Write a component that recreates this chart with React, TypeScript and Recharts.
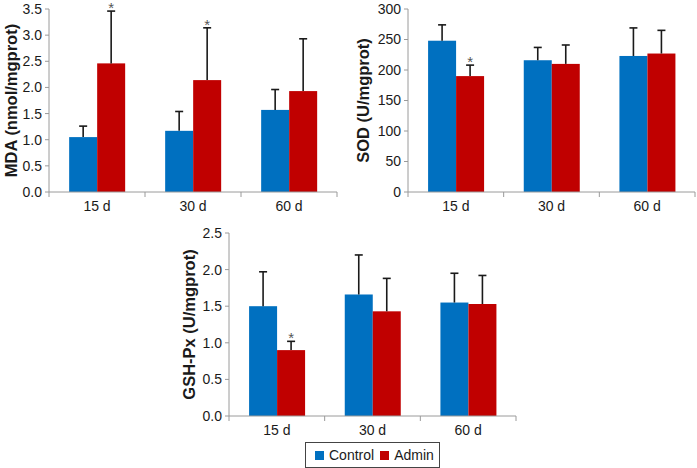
import React from 'react';
import { BarChart, Bar, XAxis, YAxis, Legend } from 'recharts';

const FONT = '"Liberation Sans", Arial, sans-serif';
const BLUE = '#0070C0';
const RED = '#C00000';
const AXIS = '#9a9a9a';
const TEXT = '#1a1a1a';

const categories = ['15 d', '30 d', '60 d'];
const seriesNames = ['Control', 'Admin'];
const seriesColors = [BLUE, RED];

// MDA (nmol/mgprot)
const mdaControl = [1.05, 1.17, 1.57];
const mdaControlErr = [0.21, 0.37, 0.39];
const mdaAdmin = [2.46, 2.14, 1.93];
const mdaAdminErr = [1.0, 1.0, 1.0];
const mdaAdminSig = [true, true, false];
const mdaTicks = [0, 0.5, 1.0, 1.5, 2.0, 2.5, 3.0, 3.5];

// SOD (U/mgprot)
const sodControl = [248, 216, 223];
const sodControlErr = [26, 21, 46];
const sodAdmin = [190, 210, 227];
const sodAdminErr = [18, 31, 38];
const sodAdminSig = [true, false, false];
const sodTicks = [0, 50, 100, 150, 200, 250, 300];

// GSH-Px (U/mgprot)
const gshControl = [1.5, 1.66, 1.55];
const gshControlErr = [0.47, 0.54, 0.4];
const gshAdmin = [0.9, 1.43, 1.53];
const gshAdminErr = [0.12, 0.45, 0.39];
const gshAdminSig = [true, false, false];
const gshTicks = [0, 0.5, 1.0, 1.5, 2.0, 2.5];

const buildRows = (c: number[], ce: number[], a: number[], ae: number[], sig: boolean[]) =>
  categories.map((name, i) => ({
    name,
    Control: c[i],
    controlErr: ce[i],
    Admin: a[i],
    adminErr: ae[i],
    adminSig: sig[i],
  }));

const mdaData = buildRows(mdaControl, mdaControlErr, mdaAdmin, mdaAdminErr, mdaAdminSig);
const sodData = buildRows(sodControl, sodControlErr, sodAdmin, sodAdminErr, sodAdminSig);
const gshData = buildRows(gshControl, gshControlErr, gshAdmin, gshAdminErr, gshAdminSig);

// bar + upper error whisker (+ asterisk), whisker length from the bar's own px/unit
const barWithError = (valueKey: string, errKey: string, sigKey?: string) => (props: any) => {
  const { x, y, width, height, fill, payload } = props;
  const v = payload[valueKey];
  const err = payload[errKey];
  const pxPer = v ? height / v : 0;
  const cx = x + width / 2;
  const top = y - err * pxPer;
  return (
    <g>
      <rect x={x} y={y} width={width} height={height} fill={fill} />
      <line x1={cx} y1={y} x2={cx} y2={top} stroke="#1a1a1a" strokeWidth={1.6} />
      <line x1={cx - 4} y1={top} x2={cx + 4} y2={top} stroke="#1a1a1a" strokeWidth={1.6} />
      {sigKey && payload[sigKey] ? (
        <text x={cx} y={top + 2} textAnchor="middle" fontSize={15} fill="#555" fontFamily={FONT}>
          *
        </text>
      ) : null}
    </g>
  );
};

const XTick = (props: any) => {
  const { x, y, payload, index, visibleTicksCount } = props;
  const off = payload && payload.offset ? payload.offset : 48;
  const last = index === visibleTicksCount - 1;
  return (
    <g>
      <line x1={x - off} y1={y} x2={x - off} y2={y + 5} stroke={AXIS} />
      {last ? <line x1={x + off} y1={y} x2={x + off} y2={y + 5} stroke={AXIS} /> : null}
      <text x={x} y={y + 19} textAnchor="middle" fontSize={14} fill={TEXT} fontFamily={FONT}>
        {payload.value}
      </text>
    </g>
  );
};

const yLabel = (text: string, cx: number, fallbackCy: number) => (props: any) => {
  const vb = props && props.viewBox;
  const cy = vb && vb.height ? vb.y + vb.height / 2 : fallbackCy;
  return (
    <text
      x={cx}
      y={cy}
      transform={`rotate(-90, ${cx}, ${cy})`}
      textAnchor="middle"
      dominantBaseline="central"
      fontSize={16.5}
      fontWeight="bold"
      fill={TEXT}
      fontFamily={FONT}
    >
      {text}
    </text>
  );
};

const LegendBox = () => (
  <div
    style={{
      boxSizing: 'border-box',
      width: 135,
      height: 26,
      border: '1px solid #444',
      display: 'flex',
      alignItems: 'center',
      fontFamily: FONT,
      fontSize: 14,
      color: TEXT,
      background: '#fff',
    }}
  >
    {seriesNames.map((name, i) => (
      <span key={name} style={{ display: 'flex', alignItems: 'center', marginLeft: i === 0 ? 9 : 6 }}>
        <span style={{ width: 9, height: 9, background: seriesColors[i], marginRight: 5, display: 'inline-block' }} />
        {name}
      </span>
    ))}
  </div>
);

const yTick = { fill: TEXT, fontSize: 14, fontFamily: FONT };

type PanelProps = {
  data: any[];
  ticks: number[];
  label: string;
  labelX: number;
  labelCy: number;
  width: number;
  height: number;
  yWidth: number;
  marginTop: number;
  marginRight: number;
  xHeight: number;
  decimals: number;
  legend?: boolean;
};

const Panel = (p: PanelProps) => (
  <BarChart
    width={p.width}
    height={p.height}
    data={p.data}
    margin={{ top: p.marginTop, right: p.marginRight, left: 0, bottom: 0 }}
    barCategoryGap="21%"
    barGap={0}
  >
    <XAxis
      dataKey="name"
      height={p.xHeight}
      interval={0}
      tickLine={false}
      tickSize={0}
      tickMargin={0}
      axisLine={{ stroke: AXIS }}
      tick={<XTick />}
    />
    <YAxis
      width={p.yWidth}
      domain={[p.ticks[0], p.ticks[p.ticks.length - 1]]}
      ticks={p.ticks}
      interval={0}
      tickSize={4}
      tickMargin={3}
      tickFormatter={(v: number) => v.toFixed(p.decimals)}
      tick={yTick}
      axisLine={{ stroke: AXIS }}
      tickLine={{ stroke: AXIS }}
      label={yLabel(p.label, p.labelX, p.labelCy)}
    />
    {p.legend ? (
      <Legend
        verticalAlign="bottom"
        content={<LegendBox />}
        wrapperStyle={{ left: 145, bottom: 0, width: 135, height: 26 }}
      />
    ) : null}
    <Bar dataKey="Control" fill={BLUE} isAnimationActive={false} shape={barWithError('Control', 'controlErr')} />
    <Bar dataKey="Admin" fill={RED} isAnimationActive={false} shape={barWithError('Admin', 'adminErr', 'adminSig')} />
  </BarChart>
);

export default function App() {
  return (
    <div style={{ position: 'absolute', left: 0, top: 0, width: 697, height: 468, background: '#fff', overflow: 'hidden' }}>
      <div style={{ position: 'absolute', left: 0, top: 0 }}>
        <Panel
          data={mdaData}
          ticks={mdaTicks}
          label="MDA (nmol/mgprot)"
          labelX={11}
          labelCy={100}
          width={345}
          height={215}
          yWidth={49}
          marginTop={9}
          marginRight={8}
          xHeight={23}
          decimals={1}
        />
      </div>
      <div style={{ position: 'absolute', left: 340, top: 0 }}>
        <Panel
          data={sodData}
          ticks={sodTicks}
          label="SOD (U/mgprot)"
          labelX={22.5}
          labelCy={100}
          width={357}
          height={215}
          yWidth={68}
          marginTop={9}
          marginRight={2}
          xHeight={23}
          decimals={0}
        />
      </div>
      <div style={{ position: 'absolute', left: 160, top: 220 }}>
        <Panel
          data={gshData}
          ticks={gshTicks}
          label="GSH-Px (U/mgprot)"
          labelX={28.5}
          labelCy={104}
          width={360}
          height={248}
          yWidth={69}
          marginTop={13}
          marginRight={4}
          xHeight={26}
          decimals={1}
          legend
        />
      </div>
    </div>
  );
}
